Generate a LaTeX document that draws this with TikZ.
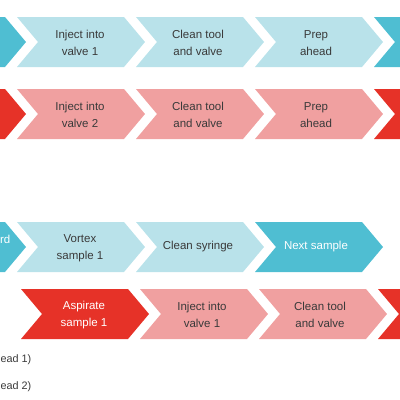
\documentclass[tikz,border=0pt]{standalone}
\usepackage{fontspec}
\setmainfont{Liberation Sans}
\definecolor{tealdark}{HTML}{4FBED2}
\definecolor{teallight}{HTML}{B9E2EA}
\definecolor{reddark}{HTML}{E63228}
\definecolor{pinklight}{HTML}{F0A0A0}
\definecolor{txtgray}{HTML}{3A3A3A}
\newcommand{\chevshape}[3]{%
  \fill[#3] (#1,#2) -- ++(107,0) -- ++(21,25) -- ++(-21,25) -- ++(-107,0) -- ++(21,-25) -- cycle;}
\tikzset{
  lbl/.style={align=center, text=txtgray, font=\fontsize{11.5}{17.5}\selectfont, inner sep=0pt},
  lblw/.style={lbl, text=white},
  legendtxt/.style={text=txtgray, font=\fontsize{10.8}{14}\selectfont, inner sep=0pt, anchor=west}
}
\begin{document}
\begin{tikzpicture}[x=1pt,y=-1pt]
\useasboundingbox (0,0) rectangle (400,400);
\clip (0,0) rectangle (400,400);
% Row 1
\chevshape{-102}{17}{tealdark}
\chevshape{17}{17}{teallight}
\chevshape{136}{17}{teallight}
\chevshape{255}{17}{teallight}
\chevshape{374}{17}{tealdark}
\node[lbl] (a2) at (80,43) {Inject into\\valve 1};
\node[lbl] (a3) at (198,43) {Clean tool\\and valve};
\node[lbl] (a4) at (316,43) {Prep\\ahead};
% Row 2
\chevshape{-102}{89}{reddark}
\chevshape{17}{89}{pinklight}
\chevshape{136}{89}{pinklight}
\chevshape{255}{89}{pinklight}
\chevshape{374}{89}{reddark}
\node[lbl] (b2) at (80,115) {Inject into\\valve 2};
\node[lbl] (b3) at (198,115) {Clean tool\\and valve};
\node[lbl] (b4) at (316,115) {Prep\\ahead};
% Row 3
\chevshape{-102}{222}{tealdark}
\chevshape{17}{222}{teallight}
\chevshape{136}{222}{teallight}
\chevshape{255}{222}{tealdark}
\node[lblw, anchor=base east] (c1) at (10.5,243) {rd};
\node[lbl] (c2) at (80,248) {Vortex\\sample 1};
\node[lbl] (c3) at (198,247) {Clean syringe};
\node[lblw] (c4) at (316,247) {Next sample};
% Row 4
\chevshape{21}{289}{reddark}
\chevshape{140}{289}{pinklight}
\chevshape{259}{289}{pinklight}
\chevshape{378}{289}{reddark}
\node[lblw] (d1) at (84,315) {Aspirate\\sample 1};
\node[lbl] (d2) at (202,315) {Inject into\\valve 1};
\node[lbl] (d3) at (320,315) {Clean tool\\and valve};
% Legend fragments
\node[legendtxt] (l1) at (0.5,360) {ead 1)};
\node[legendtxt] (l2) at (0.5,387) {ead 2)};
\end{tikzpicture}
\end{document}
